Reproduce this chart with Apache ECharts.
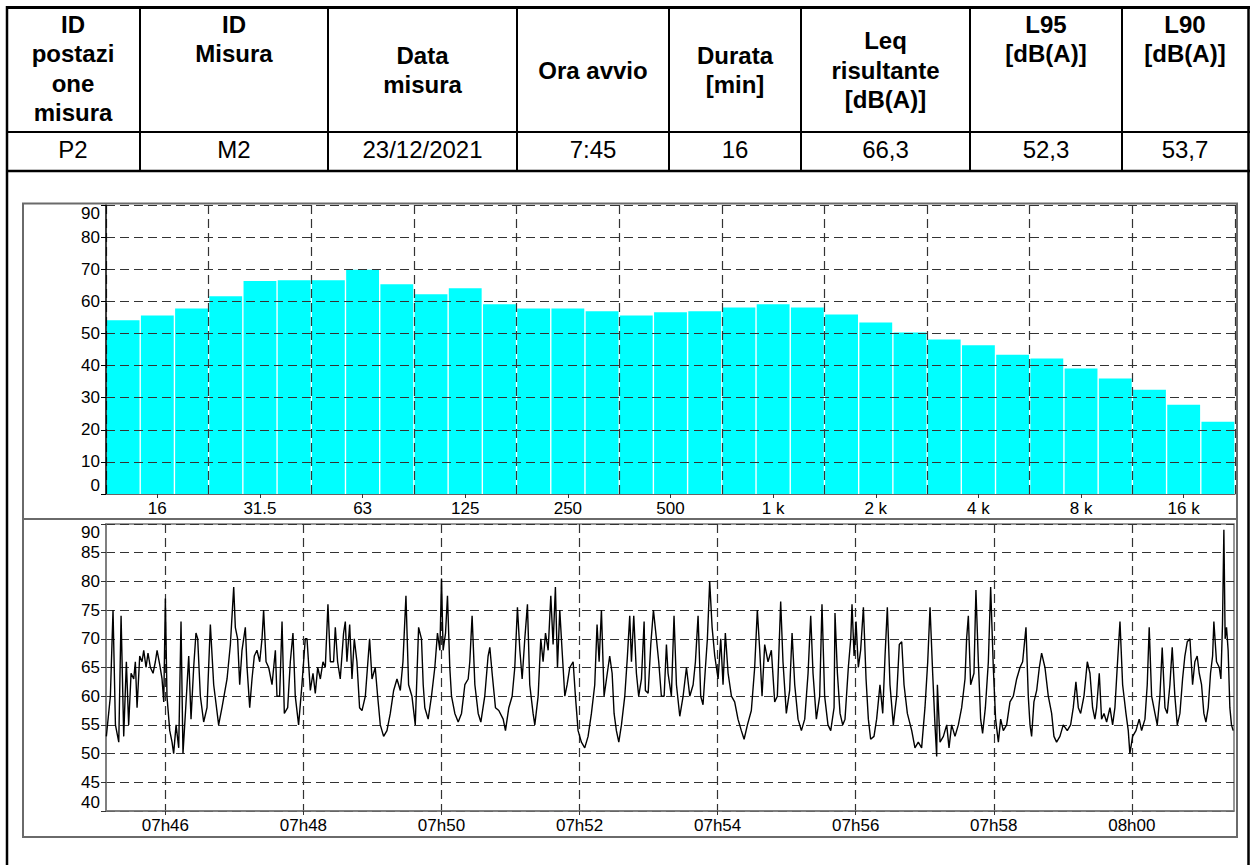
<!DOCTYPE html>
<html><head><meta charset="utf-8">
<script src="https://cdn.jsdelivr.net/npm/echarts@6/dist/echarts.min.js"></script>
<style>html,body{margin:0;padding:0;background:#fff}#c{width:1251px;height:865px}</style>
</head><body><div id="c"></div>
<script>
// ---------------- DATA ----------------
const tableHeaders = ['ID\npostazi\none\nmisura', 'ID\nMisura', 'Data\nmisura', 'Ora avvio', 'Durata\n[min]', 'Leq\nrisultante\n[dB(A)]', 'L95\n[dB(A)]', 'L90\n[dB(A)]'];
const tableValues = ['P2', 'M2', '23/12/2021', '7:45', '16', '66,3', '52,3', '53,7'];

// third-octave bands (Hz) and levels (dB)
const freqBands = [12.5, 16, 20, 25, 31.5, 40, 50, 63, 80, 100, 125, 160, 200, 250, 315, 400, 500, 630, 800, 1000, 1250, 1600, 2000, 2500, 3150, 4000, 5000, 6300, 8000, 10000, 12500, 16000, 20000];
const bandLevels = [54.1, 55.6, 57.8, 61.6, 66.3, 66.6, 66.6, 69.8, 65.3, 62.2, 64.1, 59.1, 57.8, 57.8, 56.9, 55.6, 56.6, 56.9, 58.1, 59.1, 58.1, 55.9, 53.4, 50.3, 48.1, 46.3, 43.4, 42.2, 39.1, 36.0, 32.5, 27.8, 22.5];
const spectrumTickLabels = ['16', '31.5', '63', '125', '250', '500', '1 k', '2 k', '4 k', '8 k', '16 k'];

// time history: seconds after levelStartClock, and dB(A)
const levelStartClock = '07:45:00';
const timeTickLabels = ['07h46', '07h48', '07h50', '07h52', '07h54', '07h56', '07h58', '08h00'];
const levelTimes = [
8.7,12.2,14.5,16.6,19.5,21.5,23.8,26.1,28.1,30.2,32.5,33.9,35.4,37.7,39.7,41.2,43.2,44.9,47,49.3,
51.3,52.8,55.1,57.1,58.6,60,61.4,63.8,65.8,67.2,69.3,71.6,73.6,75.3,77.7,80.3,82.3,84.6,86.6,88.1,
90.4,93.3,96.2,99.1,102,106.3,109.2,113.6,116.5,119.4,120.8,122.8,124.6,126.6,129.5,131,133.3,135.3,137.3,139.6,
142,144,145.4,147.5,149.8,152.7,155.6,157,159.3,161.4,163.4,166.3,168.6,170.9,172.9,175.8,178.7,181.6,183.1,186,
188.3,190.3,192.4,194.7,197,199,201.3,203.4,206.2,207.7,209.7,212,214.9,216.4,217.8,220.2,222.2,224.2,226.5,228.8,
230.9,233.8,237.5,239.6,242.4,244.5,246.8,249.7,252.6,255.5,258.4,261.3,264.2,266.5,269.1,271.4,274.3,277.2,280.1,
282.6,284.1,285.5,288.4,291.3,294.2,296.5,298.6,300,301.4,303.5,305.2,307.2,308.7,311.6,314.5,317.4,320.3,323.2,324.6,
326.6,329,331.9,334.2,337.6,340.5,342,344,346.9,349.8,353.6,355.6,358.5,361.4,363.7,366,368.1,370.1,372.4,374.7,
376.7,379.6,381.1,384,386.3,388.3,390.4,392.7,395,397,399,400.8,402.8,404.8,407.2,409.2,411.5,414.4,416.4,418.7,
421.6,424.5,427.4,430.3,433.2,435.2,437,439,441.3,443.4,446.2,448.3,450,452,454.1,456.4,459.3,461.6,463.6,465.1,
467.1,469.4,471.4,473.8,476.1,477.2,479.6,481.9,484.2,486.8,488.8,491.1,493.5,495.5,496.9,499.8,502.1,504.2,507.1,510,
512.9,515.8,518.7,520.7,523,525.3,527.3,529.4,531.1,533.1,535.2,537.5,540.4,542.7,544.7,546.7,549.1,552,554.8,557.7,
560.6,563,565.9,569.3,572.2,574.5,576.6,578.6,580.9,583.8,586.7,589.6,591.9,594.8,596.8,599.7,602.6,604.7,607,609.9,
612.8,615.7,618.6,620.9,622.9,625.8,628.7,630.7,633,635.9,638.3,641.2,
642,644.1,646.4,648.7,650.7,653.6,655.7,656.8,658.6,660.3,662.3,664.3,666.7,669,671,673,675.9,678.2,681.1,683.5,
685.5,687.5,689.8,692.7,695.6,697.9,700,702,704.9,708.7,711.5,714.4,717.3,720.2,722.6,724.6,726.9,728.9,730.4,731,
733.3,736.2,739.1,741.1,743.4,746.3,749.2,752.1,755,756.4,757.9,759.9,762.8,764.5,766.6,768.6,770.3,772.7,775.3,777.3,
779.6,781.6,784,786,788.3,791.2,794.1,797,799.9,802.8,805.1,808,810,811.5,812.9,814.9,817.3,819.6,821.6,824.5,
827.4,830.3,832.3,834.6,837.5,840.4,843.9,846.8,849.1,851.4,853.5,855.5,858.4,861.3,863.6,865.9,867.9,869.4,871.7,873.7,
875.8,878.1,881,883.3,885.3,887.3,889.7,892,894.9,896.9,898.3,900.7,903.6,906.4,908.5,911.4,913.4,915.1,917.2,920.1,
922.1,924.4,926.4,928.8,930.8,933.1,935.1,937.4,939.5,941.8,944.1,946.1,948.2,950.5,952.8,954.8,956.8,958.6,960.6,962.6,
964.4,966.4,968.4,970.2,971.3,973.6,976,977.4,978.8,980,981.1,982.3,983.7,985.2,986.6,988.1
];
const levelValues = [
53,60,75,55,52,74,53,66,55,64,63,66,58,67,66,68,65,67.5,65,64,
66,68,65.5,63,59,77,60,54,52,50,55,51,73,50,58,67,56,65,71,70,
60,55.5,58,72.5,62,55,58,63,69,79,72,70,62,68,72,65,58,63,67,68,
66,70,75,66,65,62,68,60,60,73,57,58,66,71,60,55,62,70,70,61,
64,60.5,65,63,66,65,76,66,66,72,66,63,71,73,66,72.5,63,70,66,58,
57.5,60,70,63,65,60,55,53,54,57,61,63,61,66,77.5,62,60,55,72,
70,62,58,56,60,65,71,68,80.5,68,71,77.5,65,60,57,55.5,57,62,63,66,
74,62,57,55.5,60,67,68.5,64,58,57.5,56,54,58,60,65,75.5,68,63,70,76,
62,57,55,60,70,66,71,68,77.5,69,79,65,75,68,60,62,65,66,60,54,
52,51,53,57,62,72.5,66,75,60,63,67,64,57,54,52,55,60,67,74,66,
74,64,60,63,73,61,60.5,69,75,70,66,60,60,69,64,60,74,62,56.5,60,
65,60,62,66,74,60,58.5,65,70,80,72,67,63,70,62,71,64,60,59,56,
54,52.5,55,57.5,65,75,68,60,69,66,68,59,60,76.5,66,57,61,71,62,56,
54,56,64,74,64,56,60,76,60,55,54,58,
74.5,64,57,55,56,65,70,76,67,73,65,68,75.5,63,56,52.5,53,56,62,57,
67,75.5,62,55,60,69,69.5,62,57,54,51,52,51,58,66,75.5,64,55,49.5,62,
52,53,55,51,55,53,55,58,63,70,74,62,64,78.5,66,56,53.5,58,66,79,
65,56,52,56,54,55,59,60,63,65,66,72,60,55,53,59,61,65,67.5,65,
60,57,53,52,53,55,54,55,58,62.5,58,57,60,66,64,58,56,58,64,56,
57,55.5,58,55,58,65,73,62,57,54,50,53,54,56,54,56,62,72,60,57,
55,60,68.5,58,57,62,68.5,60,55,57,63,67,69.5,70,62,66,67,64,62,57,
55.5,58,64,67,73,66,65,63,72.5,89,70,72,68,58,55,54
];

// ---------------- HELPERS ----------------
const FONT = '"Liberation Sans", Arial, Helvetica, sans-serif';
function clockToSec(str) {
  const p = str.split(/[:h]/).map(Number);
  return p[0] * 3600 + p[1] * 60 + (p[2] || 0);
}
const startSec = clockToSec(levelStartClock);
const timeTickSecs = timeTickLabels.map(l => clockToSec(l) - startSec);
function secToLabel(s) {
  const t = Math.round(startSec + s);
  const h = Math.floor(t / 3600), m = Math.floor((t % 3600) / 60);
  return String(h).padStart(2, '0') + 'h' + String(m).padStart(2, '0');
}
function freqLabel(v) {
  v = Number(v);
  return v >= 1000 ? (v / 1000) + ' k' : String(v);
}
const labelledBand = i => spectrumTickLabels.indexOf(freqLabel(freqBands[i])) >= 0;
const levelData = levelTimes.slice(0, Math.min(levelTimes.length, levelValues.length)).map((t, i) => [t, levelValues[i]]);

// ---------------- TABLE + PANELS (graphic) ----------------
const colX = [6, 140, 328, 517, 669, 801, 970, 1122, 1248];
const headAlign = ['top', 'top', 'middle', 'middle', 'middle', 'middle', 'top', 'top'];
const graphics = [];
const L = (x1, y1, x2, y2, w) => graphics.push({ type: 'line', silent: true, z: 100, shape: { x1, y1, x2, y2 }, style: { stroke: '#000', lineWidth: w } });
L(7, 6, 7, 865, 2.5);
L(1248.5, 6, 1248.5, 865, 2.5);
L(6, 7.5, 1250, 7.5, 3);
L(6, 132, 1250, 132, 2);
L(6, 171, 1250, 171, 2.5);
for (let i = 1; i < colX.length - 1; i++) L(colX[i], 7.5, colX[i], 171, 2);
tableHeaders.forEach((h, i) => {
  const cx = (colX[i] + colX[i + 1]) / 2;
  graphics.push({ type: 'text', silent: true, z: 100, x: cx, y: headAlign[i] === 'top' ? 9.5 : 70,
    style: { text: h, font: 'bold 24px ' + FONT, fill: '#000', align: 'center', verticalAlign: headAlign[i], lineHeight: 29.5 } });
});
tableValues.forEach((v, i) => {
  const cx = (colX[i] + colX[i + 1]) / 2;
  graphics.push({ type: 'text', silent: true, z: 100, x: cx, y: 149,
    style: { text: v, font: '24px ' + FONT, fill: '#000', align: 'center', verticalAlign: 'middle' } });
});
graphics.push({ type: 'rect', silent: true, z: 100, shape: { x: 23, y: 203.5, width: 1214, height: 315.5 }, style: { fill: 'none', stroke: '#6a6a6a', lineWidth: 2 } });
graphics.push({ type: 'rect', silent: true, z: 100, shape: { x: 23, y: 519, width: 1214, height: 318 }, style: { fill: 'none', stroke: '#6a6a6a', lineWidth: 2 } });

// ---------------- CHART ----------------
const dash = { type: [9, 5], color: '#333', width: 1.2 };
const labelStyle = { color: '#000', fontSize: 17, fontFamily: FONT };
const chart = echarts.init(document.getElementById('c'), null, { renderer: 'svg', width: 1251, height: 865 });
chart.setOption({
  animation: false,
  backgroundColor: '#fff',
  graphic: graphics,
  grid: [
    { left: 106, top: 205, width: 1129, height: 289, show: false },
    { left: 106, top: 524, width: 1128, height: 287, show: true, borderColor: '#777', borderWidth: 1.5, backgroundColor: 'transparent' }
  ],
  xAxis: [
    { type: 'category', gridIndex: 0, data: freqBands, boundaryGap: true, z: 5,
      axisLine: { show: true, lineStyle: { color: '#666', width: 1 } },
      axisTick: { show: true, alignWithLabel: true, interval: i => labelledBand(i), length: 4, lineStyle: { color: '#333' } },
      axisLabel: Object.assign({ interval: i => labelledBand(i), formatter: v => freqLabel(v), margin: 6 }, labelStyle),
      splitLine: { show: true, interval: i => i % 3 === 0, lineStyle: dash } },
    { type: 'value', gridIndex: 1, min: levelTimes[0] - 0.3, max: 988.8,
      axisLine: { show: true, lineStyle: { color: '#777', width: 1.5 } },
      axisTick: { show: true, customValues: timeTickSecs, length: 4, lineStyle: { color: '#333' } },
      axisLabel: Object.assign({ customValues: timeTickSecs, formatter: v => secToLabel(v), margin: 6 }, labelStyle),
      splitLine: { show: true, lineStyle: dash } }
  ],
  yAxis: [
    { type: 'value', gridIndex: 0, min: 0, max: 90, interval: 10, z: 5,
      axisLine: { show: true, lineStyle: { color: '#000', width: 1.5 } },
      axisTick: { show: true, length: 5, lineStyle: { color: '#000' } },
      axisLabel: Object.assign({ margin: 6, verticalAlignMinLabel: 'bottom', verticalAlignMaxLabel: 'top' }, labelStyle),
      splitLine: { show: true, lineStyle: dash } },
    { type: 'value', gridIndex: 1, min: 40, max: 90, interval: 5,
      axisLine: { show: true, lineStyle: { color: '#777', width: 1.5 } },
      axisTick: { show: true, length: 5, lineStyle: { color: '#333' } },
      axisLabel: Object.assign({ margin: 6, verticalAlignMinLabel: 'bottom', verticalAlignMaxLabel: 'top' }, labelStyle),
      splitLine: { show: true, lineStyle: dash } }
  ],
  series: [
    { type: 'bar', xAxisIndex: 0, yAxisIndex: 0, data: bandLevels, barCategoryGap: '4%',
      itemStyle: { color: '#00FFFF' }, z: 2 },
    { type: 'line', xAxisIndex: 1, yAxisIndex: 1, data: levelData, showSymbol: false, symbol: 'none',
      lineStyle: { color: '#000', width: 1.4 }, z: 3 }
  ]
});
</script></body></html>
